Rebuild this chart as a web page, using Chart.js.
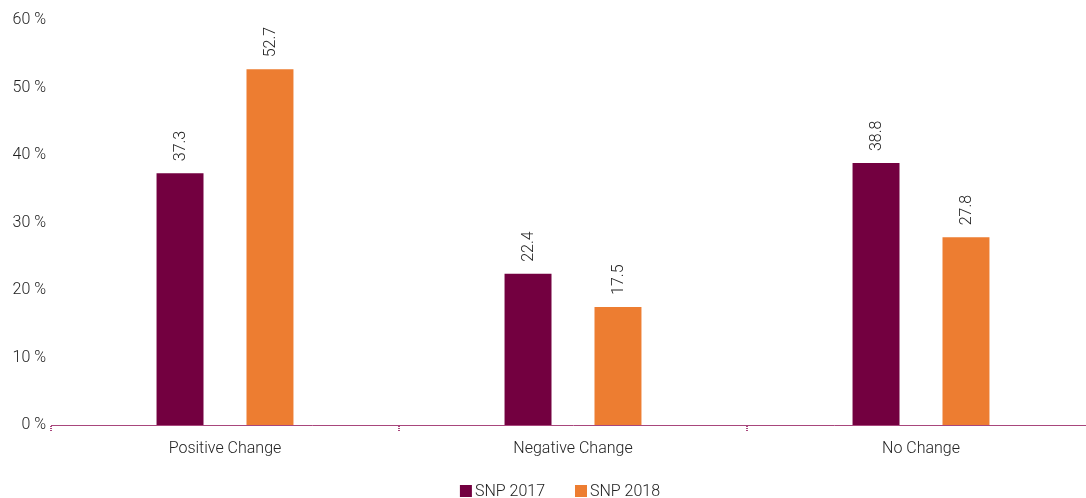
<!DOCTYPE html>
<html>
<head>
<meta charset="utf-8">
<script src="https://cdn.jsdelivr.net/npm/chart.js@4/dist/chart.umd.min.js"></script>
<style>
  html, body { margin: 0; padding: 0; background: #fff; overflow: hidden; }
  #wrap { width: 1095px; height: 498px; position: relative; }
</style>
</head>
<body>
<div id="wrap"><canvas id="myBarchart"></canvas></div>
<script>
const categories = ["Positive Change", "Negative Change", "No Change"];
const snp2017 = [37.3, 22.4, 38.8];
const snp2018 = [52.7, 17.5, 27.8];
const seriesNames = ["SNP 2017", "SNP 2018"];
const seriesColors = ["#730040", "#ed7d31"];

const axisColor = "#a8467c";
const textColor = "#222";
const fontFamily = "Roboto, 'Liberation Sans', sans-serif";
const labelFont = "300 16px " + fontFamily;

// value labels, rotated, above each bar
const valueLabels = {
  id: "valueLabels",
  afterDatasetsDraw(chart) {
    const ctx = chart.ctx;
    ctx.save();
    ctx.fillStyle = textColor;
    ctx.font = labelFont;
    ctx.textAlign = "left";
    ctx.textBaseline = "middle";
    chart.data.datasets.forEach((ds, i) => {
      chart.getDatasetMeta(i).data.forEach((bar, j) => {
        ctx.save();
        ctx.translate(bar.x + 1, bar.y - 12);
        ctx.rotate(-Math.PI / 2);
        ctx.fillText(ds.data[j].toFixed(1), 0, 0);
        ctx.restore();
      });
    });
    ctx.restore();
  }
};

// legend drawn by hand so it sits close to the bottom edge
const bottomLegend = {
  id: "bottomLegend",
  afterDraw(chart) {
    const ctx = chart.ctx;
    const box = 12, gap = 3, spacing = 30;
    ctx.save();
    ctx.font = labelFont;
    ctx.textBaseline = "middle";
    ctx.textAlign = "left";
    const widths = chart.data.datasets.map(ds => box + gap + ctx.measureText(ds.label).width);
    const total = widths.reduce((a, b) => a + b, 0) + spacing * (widths.length - 1);
    let x = 560 - total / 2;
    const y = 491;
    chart.data.datasets.forEach((ds, i) => {
      ctx.fillStyle = ds.backgroundColor;
      ctx.fillRect(x, y - box / 2, box, box);
      ctx.fillStyle = textColor;
      ctx.fillText(ds.label, x + box + gap, y + 1);
      x += widths[i] + spacing;
    });
    ctx.restore();
  }
};

const ctx = document.getElementById("myBarchart");
const myChart = new Chart(ctx, {
  type: "bar",
  data: {
    labels: categories,
    datasets: [
      { label: seriesNames[0], data: snp2017, backgroundColor: seriesColors[0] },
      { label: seriesNames[1], data: snp2018, backgroundColor: seriesColors[1] }
    ]
  },
  plugins: [valueLabels, bottomLegend],
  options: {
    responsive: true,
    maintainAspectRatio: false,
    animation: false,
    categoryPercentage: 0.517,
    barPercentage: 0.522,
    layout: { padding: { top: 20, right: 0, left: 0, bottom: 37 } },
    plugins: {
      tooltip: { enabled: false },
      legend: { display: false }
    },
    scales: {
      y: {
        min: 0,
        max: 60,
        ticks: {
          stepSize: 10,
          color: textColor,
          padding: 5,
          font: { family: fontFamily, size: 16, weight: "300" },
          callback: (v) => v + " %"
        },
        grid: { display: false, drawTicks: false },
        border: { display: false },
        afterFit: (s) => { s.width = 51; }
      },
      x: {
        ticks: {
          color: textColor,
          padding: 8,
          font: { family: fontFamily, size: 16, weight: "300" }
        },
        grid: {
          offset: true,
          drawOnChartArea: false,
          drawTicks: true,
          tickLength: 6,
          color: axisColor,
          lineWidth: 2,
          tickBorderDash: [1, 1]
        },
        border: { display: true, color: axisColor, width: 1, dash: [1, 1] },
        afterFit: (s) => { s.height = 36; }
      }
    }
  }
});
</script>
</body>
</html>
